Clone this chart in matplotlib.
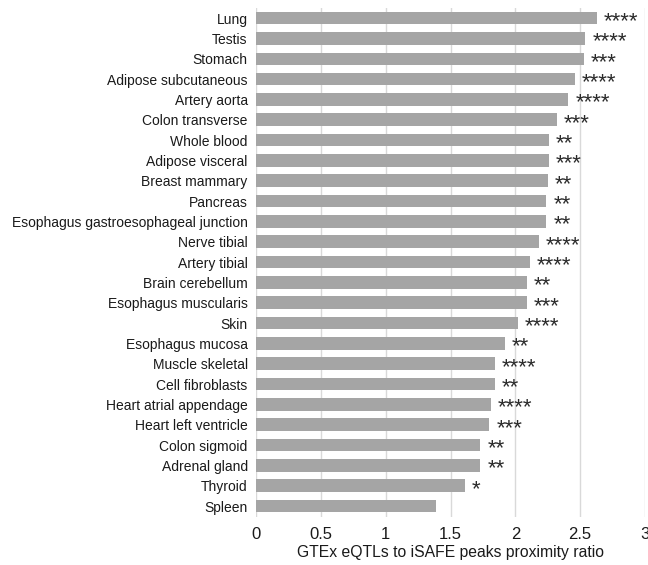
import matplotlib
matplotlib.use("Agg")
import matplotlib.pyplot as plt

plt.rcParams['font.family'] = ['Liberation Sans', 'DejaVu Sans']

tissues = [
    "Lung", "Testis", "Stomach", "Adipose subcutaneous", "Artery aorta",
    "Colon transverse", "Whole blood", "Adipose visceral", "Breast mammary",
    "Pancreas", "Esophagus gastroesophageal junction", "Nerve tibial",
    "Artery tibial", "Brain cerebellum", "Esophagus muscularis", "Skin",
    "Esophagus mucosa", "Muscle skeletal", "Cell fibroblasts",
    "Heart atrial appendage", "Heart left ventricle", "Colon sigmoid",
    "Adrenal gland", "Thyroid", "Spleen",
]
ratios = [
    2.63, 2.54, 2.53, 2.46, 2.41,
    2.32, 2.26, 2.26, 2.25,
    2.24, 2.24, 2.18,
    2.11, 2.09, 2.09, 2.02,
    1.92, 1.84, 1.84,
    1.81, 1.80, 1.73,
    1.73, 1.61, 1.39,
]
significance = [
    "****", "****", "***", "****", "****",
    "***", "**", "***", "**",
    "**", "**", "****",
    "****", "**", "***", "****",
    "**", "****", "**",
    "****", "***", "**",
    "**", "*", "",
]
xticks = [0, 0.5, 1, 1.5, 2, 2.5, 3]
xtick_labels = ["0", "0.5", "1", "1.5", "2", "2.5", "3"]

fig = plt.figure(figsize=(6.48, 5.65), dpi=100)
ax = fig.add_axes([256 / 648, 1 - 517 / 565, (645 - 256) / 648, (517 - 8) / 565])

ypos = list(range(len(tissues)))
ax.barh(ypos, ratios, height=0.62, color="#a5a5a5", zorder=2)

# significance stars: the asterisk glyph sits high, so drop the baseline
# until the stars are centred on the bar
for y, v, s in zip(ypos, ratios, significance):
    if s:
        ax.text(v + 0.055, y + 0.45, s, ha="left", va="baseline",
                fontsize=16, color="#2b2b2b", zorder=3)

ax.set_xlim(0, 3)
ax.set_ylim(len(tissues) - 0.46, -0.5)
ax.set_yticks(ypos)
ax.set_yticklabels(tissues, fontsize=10, color="#1a1a1a")
ax.set_xticks(xticks)
ax.set_xticklabels(xtick_labels, fontsize=12, color="#1a1a1a")
ax.tick_params(axis="both", length=0)
ax.tick_params(axis="y", pad=6)
ax.tick_params(axis="x", pad=7)

ax.xaxis.grid(True, color="#d9d9d9", linewidth=1, zorder=0)
ax.set_axisbelow(True)
for sp in ax.spines.values():
    sp.set_visible(False)

ax.set_xlabel("GTEx eQTLs to iSAFE peaks proximity ratio", fontsize=11.3,
              color="#1a1a1a", labelpad=2)

fig.savefig("out.png", dpi=100, facecolor="white")
